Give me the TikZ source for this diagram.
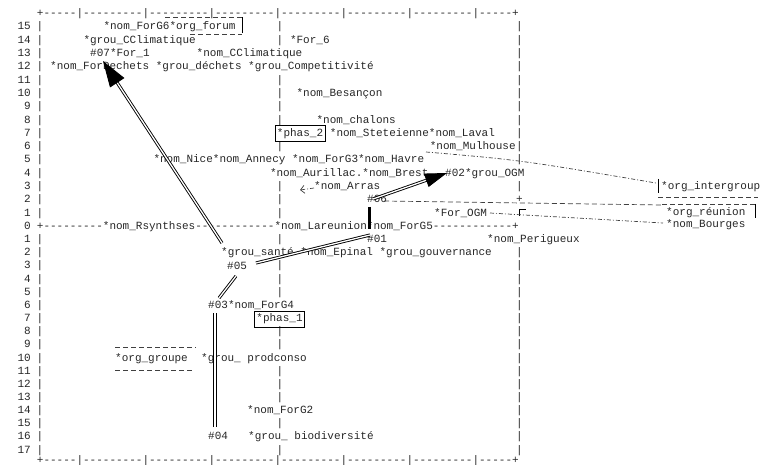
\documentclass[tikz,border=0pt]{standalone}
\usepackage{fontspec}
\setmonofont{Liberation Mono}
\usetikzlibrary{arrows.meta}
\tikzset{
  txt/.style={anchor=west, inner sep=0pt, text height=7pt, text depth=2pt,
    font=\ttfamily\fontsize{11}{13}\selectfont, text=black!85},
  num/.style={txt, anchor=east},
  bar/.style={txt, anchor=center},
  boxed/.style={draw, line width=0.8pt, inner xsep=2pt, inner ysep=3.5pt},
  dbl/.style={double, double distance=1.3pt, line width=0.9pt},
  fleche/.style={dbl, -{Triangle[length=26pt,width=17pt]}},
  tirets/.style={dash pattern=on 5pt off 3pt, line width=0.7pt, black!75},
  pointilles/.style={dash pattern=on 4pt off 2pt on 1pt off 2pt, line width=0.7pt, black!75}
}
\begin{document}
\begin{tikzpicture}[x=1pt, y=-1pt]
    \useasboundingbox (0,0) rectangle (760,465);

    % --- cadre et axe horizontal ---
    \node[txt] (cadreh) at (36.7,14) {+-----|---------|---------|---------|---------|---------|---------|-----+};
    \node[txt] (cadreb) at (36.7,461) {+-----|---------|---------|---------|---------|---------|---------|-----+};
    \node[txt] (axeh) at (36.7,227) {+---------*nom\_Rsynthses------------*nom\_Lareunion*nom\_ForG5------------+};

    % --- numéros de lignes ---
    \foreach \r in {0,...,15} {
        \node[num] (hl\r) at (31,{227-13.3*\r}) {\r};
    }
    \foreach \r in {1,...,17} {
        \node[num] (bl\r) at (31,{227+13.15*\r}) {\r};
    }

    % --- axes verticaux ---
    % gauche
    \foreach \r in {1,...,15} \node[bar] at (40,{227-13.3*\r}) {|};
    \foreach \r in {1,...,17} \node[bar] at (40,{227+13.15*\r}) {|};
    % centre
    \foreach \r in {15,14,11,10,9,8,6,3,2,1} \node[bar] at (280,{227-13.3*\r}) {|};
    \foreach \r in {1,3,4,5,8,9,11,12,13,15,17} \node[bar] at (280,{227+13.15*\r}) {|};
    % droite
    \foreach \r in {15,...,5,3} \node[bar] at (519.5,{227-13.3*\r}) {|};
    \foreach \r in {2,...,17} \node[bar] at (519.5,{227+13.15*\r}) {|};
    \node[bar] (croix) at (519.5,200.4) {+};

    % --- partie haute ---
    \node[txt] (forgsix) at (103.3,27.5) {*nom\_ForG6*org\_forum};
    \node[txt] (grouccl) at (83.3,40.8) {*grou\_CClimatique};
    \node[txt] (forsix) at (289.8,40.8) {*For\_6};
    \node[txt] (n07) at (90,54.1) {\#07*For\_1};
    \node[txt] (nomccl) at (196.5,54.1) {*nom\_CClimatique};
    \node[txt] (dechets) at (50,67.4) {*nom\_ForDechets *grou\_déchets *grou\_Competitivité};
    \node[txt] (besancon) at (296.4,94) {*nom\_Besançon};
    \node[txt] (chalons) at (316.4,120.6) {*nom\_chalons};
    \node[txt, boxed] (phasdeux) at (274.5,133.9) {*phas\_2};
    \node[txt] (laval) at (329.7,133.9) {*nom\_Steteienne*nom\_Laval};
    \node[txt] (mulhouse) at (429.6,147.2) {*nom\_Mulhouse};
    \node[txt] (havre) at (153.3,160.5) {*nom\_Nice*nom\_Annecy *nom\_ForG3*nom\_Havre};
    \node[txt] (brest) at (269.8,173.8) {*nom\_Aurillac.*nom\_Brest};
    \node[txt] (n02) at (445,173.8) {\#02*grou\_OGM};
    \node[txt] (arras) at (314,187.1) {*nom\_Arras};
    \node[txt] (n06) at (367,200.4) {\#06};
    \node[txt] (forogm) at (434,213.7) {*For\_OGM};

    % --- hors cadre, à droite ---
    \node[txt] (intergroup) at (661,187.1) {*org\_intergroup};
    \node[txt] (reunion) at (666,213) {*org\_réunion};
    \node[txt] (bourges) at (666,225) {*nom\_Bourges};

    % --- partie basse ---
    \node[txt] (n01) at (367,240.2) {\#01};
    \node[txt] (perigueux) at (487,240.2) {*nom\_Perigueux};
    \node[txt] (sante) at (221,253.3) {*grou\_santé *nom\_Epinal *grou\_gouvernance};
    \node[txt] (n05) at (227,266.5) {\#05};
    \node[txt] (n03) at (208,305.9) {\#03*nom\_ForG4};
    \node[txt, boxed] (phasun) at (254,319.1) {*phas\_1};
    \node[txt] (groupe) at (115,358.5) {*org\_groupe};
    \node[txt] (prodconso) at (201,358.5) {*grou\_ prodconso};
    \node[txt] (forgdeux) at (247,411.1) {*nom\_ForG2};
    \node[txt] (n04) at (208,437.4) {\#04};
    \node[txt] (biodiv) at (248,437.4) {*grou\_ biodiversité};

    % --- cadres en tirets ---
    \draw[tirets] (165,17) -- (242,17);
    \draw[line width=0.7pt] (242,17) -- (242,33);
    \draw[tirets] (190,34) -- (242,34);
    \draw[tirets] (115,347) -- (196,347);
    \draw[tirets] (115,370) -- (194,370);
    \draw[line width=0.7pt] (658,179) -- (658,193);
    \draw[tirets] (658,197) -- (758,197);
    \draw[tirets] (662,204) -- (755,204);
    \draw[line width=0.7pt] (755,204) -- (755,218);
    \draw[line width=0.6pt] (519.5,216) -- (519.5,209) -- (526,209);

    % --- liens ---
    \coordinate (a05) at (222,243);
    \coordinate (a07) at (103,61);
    \coordinate (a06) at (373,199);
    \coordinate (a02) at (447,173);
    \coordinate (b05) at (256,263);
    \coordinate (b01) at (370,235);
    \coordinate (c03) at (219,298);
    \coordinate (c05) at (236,276);
    \coordinate (d04) at (215,427);
    \coordinate (d03) at (215,313);
    \coordinate (e06) at (369,207);
    \coordinate (e01) at (369,229);
    \draw[fleche] (a05) -- (a07);
    \draw[fleche, -{Triangle[length=22pt,width=14pt]}] (a06) -- (a02);
    \draw[dbl] (b05) -- (b01);
    \draw[dbl] (c03) -- (c05);
    \draw[dbl] (d04) -- (d03);
    \draw[line width=3pt] (e06) -- (e01);

    % --- liens en pointillés ---
    \coordinate (p1) at (426,152);
    \coordinate (p2) at (656,183);
    \draw[pointilles] (p1) .. controls (520,160) .. (p2);
    \coordinate (q1) at (384,201);
    \coordinate (q2) at (662,205);
    \draw[tirets] (q1) -- (q2);
    \coordinate (s1) at (490,213);
    \coordinate (s2) at (663,223);
    \draw[pointilles] (s1) -- (s2);
    \coordinate (t1) at (314,188);
    \coordinate (t2) at (300,190);
    \draw[pointilles, -{Straight Barb[length=4pt]}] (t1) -- (t2);

\end{tikzpicture}
\end{document}
